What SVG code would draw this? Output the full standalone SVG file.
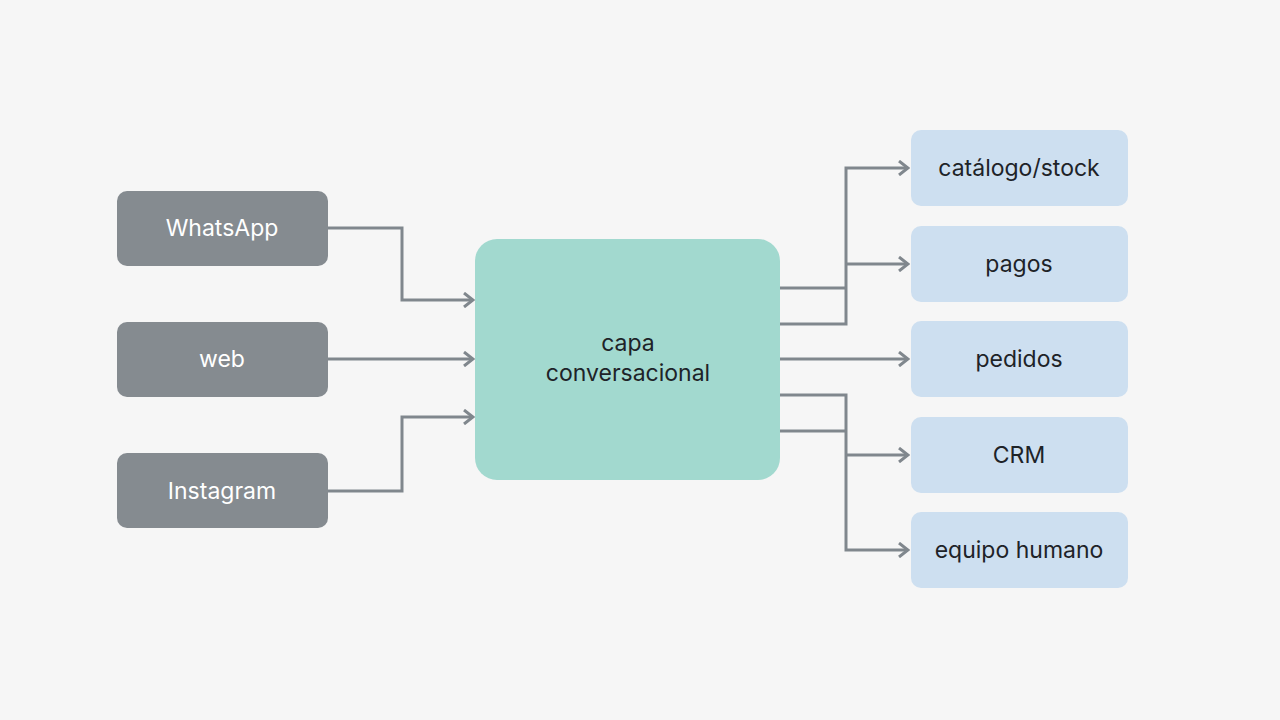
<svg xmlns="http://www.w3.org/2000/svg" width="1280" height="720" viewBox="0 0 1280 720">
<defs>
<style>
.src rect{fill:#858b90}
.src text{fill:#fff}
.dst rect{fill:#cddff0}
text{font-family:Inter,"Noto Sans",sans-serif;font-size:23px;text-anchor:middle;dominant-baseline:central;fill:#1e2328}
.c path{fill:none;stroke:#80878d;stroke-width:3}
</style>
<marker id="a" viewBox="0 0 12 16" refX="10" refY="8" markerWidth="12" markerHeight="16" markerUnits="userSpaceOnUse" orient="auto"><path d="M1 1L10 8L1 15" fill="none" stroke="#80878d" stroke-width="3"/></marker>
</defs>
<rect width="1280" height="720" fill="#f6f6f6"/>
<g class="c">
<path d="M328 228H402V300H473" marker-end="url(#a)"/>
<path d="M328 359H473" marker-end="url(#a)"/>
<path d="M328 491H402V417H473" marker-end="url(#a)"/>
<path d="M780 288H846M780 324H846V168H908" marker-end="url(#a)"/>
<path d="M846 264H908" marker-end="url(#a)"/>
<path d="M780 359H908" marker-end="url(#a)"/>
<path d="M780 431H846M780 395H846V550H908" marker-end="url(#a)"/>
<path d="M846 455H908" marker-end="url(#a)"/>
</g>
<g id="whatsapp" class="src"><rect x="117" y="191" width="211" height="75" rx="10"/><text x="222" y="228">WhatsApp</text></g>
<g id="web" class="src"><rect x="117" y="322" width="211" height="75" rx="10"/><text x="222" y="359">web</text></g>
<g id="instagram" class="src"><rect x="117" y="453" width="211" height="75" rx="10"/><text x="222" y="491">Instagram</text></g>
<g id="capa"><rect x="475" y="239" width="305" height="241" rx="22" fill="#a2d9cf"/><text x="628" y="343">capa</text><text x="628" y="373">conversacional</text></g>
<g id="catalogo" class="dst"><rect x="911" y="130" width="217" height="76" rx="10"/><text x="1019" y="168">catálogo/stock</text></g>
<g id="pagos" class="dst"><rect x="911" y="226" width="217" height="76" rx="10"/><text x="1019" y="264">pagos</text></g>
<g id="pedidos" class="dst"><rect x="911" y="321" width="217" height="76" rx="10"/><text x="1019" y="359">pedidos</text></g>
<g id="crm" class="dst"><rect x="911" y="417" width="217" height="76" rx="10"/><text x="1019" y="455">CRM</text></g>
<g id="equipo" class="dst"><rect x="911" y="512" width="217" height="76" rx="10"/><text x="1019" y="550">equipo humano</text></g>
</svg>
